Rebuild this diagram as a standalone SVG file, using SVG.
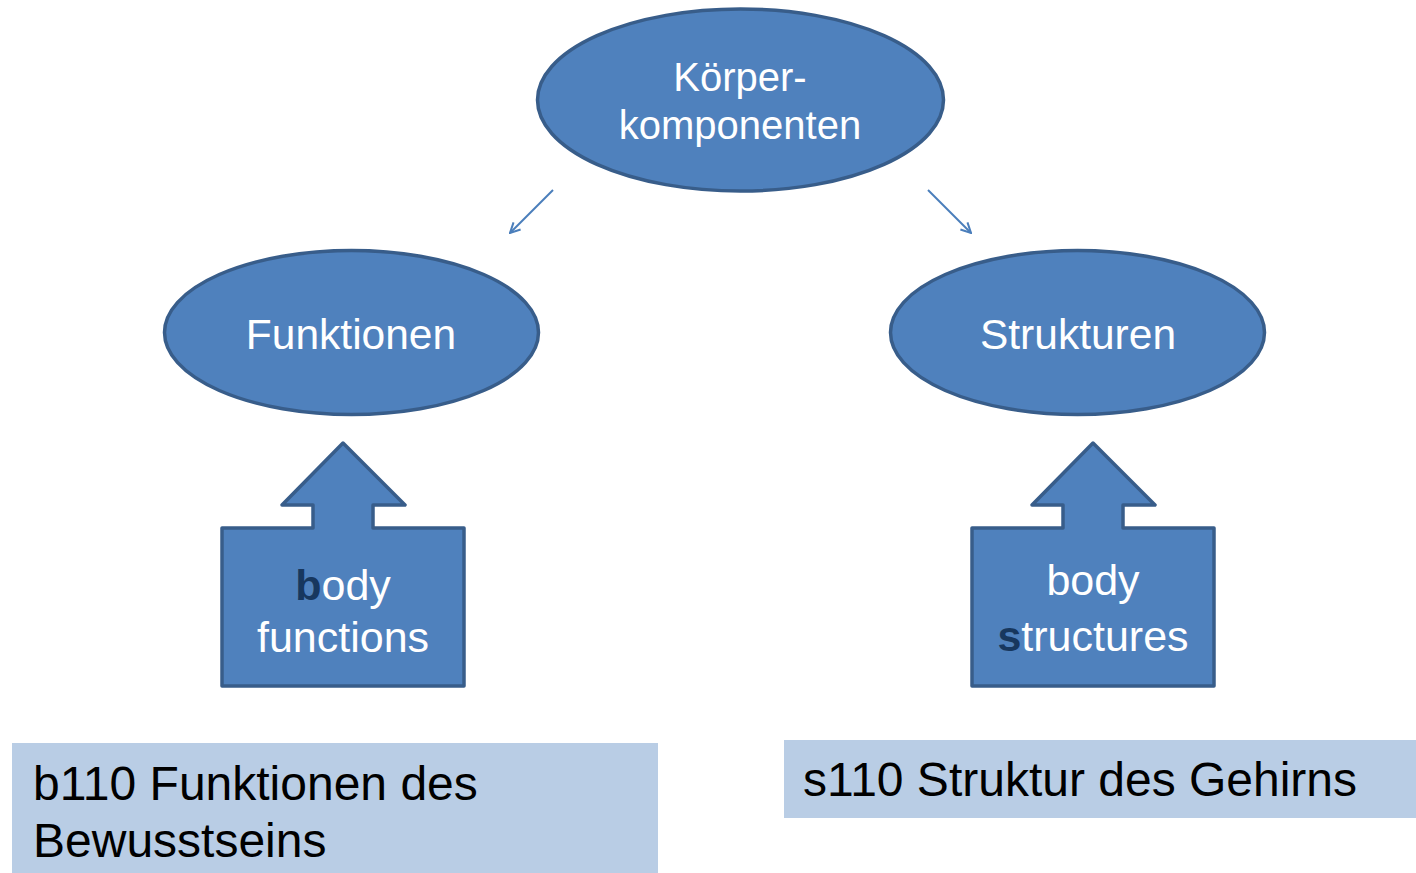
<svg xmlns="http://www.w3.org/2000/svg" width="1416" height="873" viewBox="0 0 1416 873">
<defs>
<style>
.node{fill:#4F81BD;stroke:#385D8A;stroke-width:3.5;stroke-linejoin:round}
.t{font-family:"Liberation Sans",Arial,sans-serif;fill:#FFFFFF;text-anchor:middle}
.dk{fill:#17375E;font-weight:bold}
.lab{fill:#B9CDE5}
.lt{font-family:"Liberation Sans",Arial,sans-serif;fill:#000000;font-size:48px}
.conn{stroke:#4A7EBB;stroke-width:2;fill:none;marker-end:url(#open)}
</style>
<marker id="open" viewBox="0 0 12 12" refX="11" refY="6" markerWidth="12" markerHeight="12" markerUnits="userSpaceOnUse" orient="auto">
<path d="M1,1 L11,6 L1,11" fill="none" stroke="#4A7EBB" stroke-width="2"/>
</marker>
</defs>
<rect width="1416" height="873" fill="#FFFFFF"/>
<g id="koerper">
<ellipse class="node" cx="740.5" cy="100" rx="203" ry="91"/>
<text class="t" x="740" y="91" font-size="40">Körper-</text>
<text class="t" x="740" y="139" font-size="40">komponenten</text>
</g>
<g id="funktionen">
<ellipse class="node" cx="351.5" cy="332.5" rx="187" ry="82"/>
<text class="t" x="351" y="349" font-size="42.5">Funktionen</text>
</g>
<g id="strukturen">
<ellipse class="node" cx="1077.5" cy="332.5" rx="187" ry="82"/>
<text class="t" x="1078" y="349" font-size="42.5">Strukturen</text>
</g>
<g id="bodyfunctions">
<path class="node" d="M343,443 L405,505 L373,505 L373,528 L464,528 L464,686 L222,686 L222,528 L313,528 L313,505 L282,505 Z"/>
<text class="t" x="343" y="600" font-size="43"><tspan class="dk">b</tspan>ody</text>
<text class="t" x="343" y="652" font-size="43">functions</text>
</g>
<g id="bodystructures">
<path class="node" d="M1093,443 L1155,505 L1123,505 L1123,528 L1214,528 L1214,686 L972,686 L972,528 L1063,528 L1063,505 L1032,505 Z"/>
<text class="t" x="1093" y="595" font-size="43">body</text>
<text class="t" x="1093" y="651" font-size="43"><tspan class="dk">s</tspan>tructures</text>
</g>
<g id="b110">
<rect class="lab" x="12" y="743" width="646" height="130"/>
<text class="lt" x="33" y="800">b110 Funktionen des</text>
<text class="lt" x="33" y="857">Bewusstseins</text>
</g>
<g id="s110">
<rect class="lab" x="784" y="740" width="632" height="78"/>
<text class="lt" x="803" y="796">s110 Struktur des Gehirns</text>
</g>
<g id="connectors">
<line class="conn" x1="553" y1="190" x2="510" y2="233"/>
<line class="conn" x1="928" y1="190" x2="971" y2="233"/>
</g>
</svg>
